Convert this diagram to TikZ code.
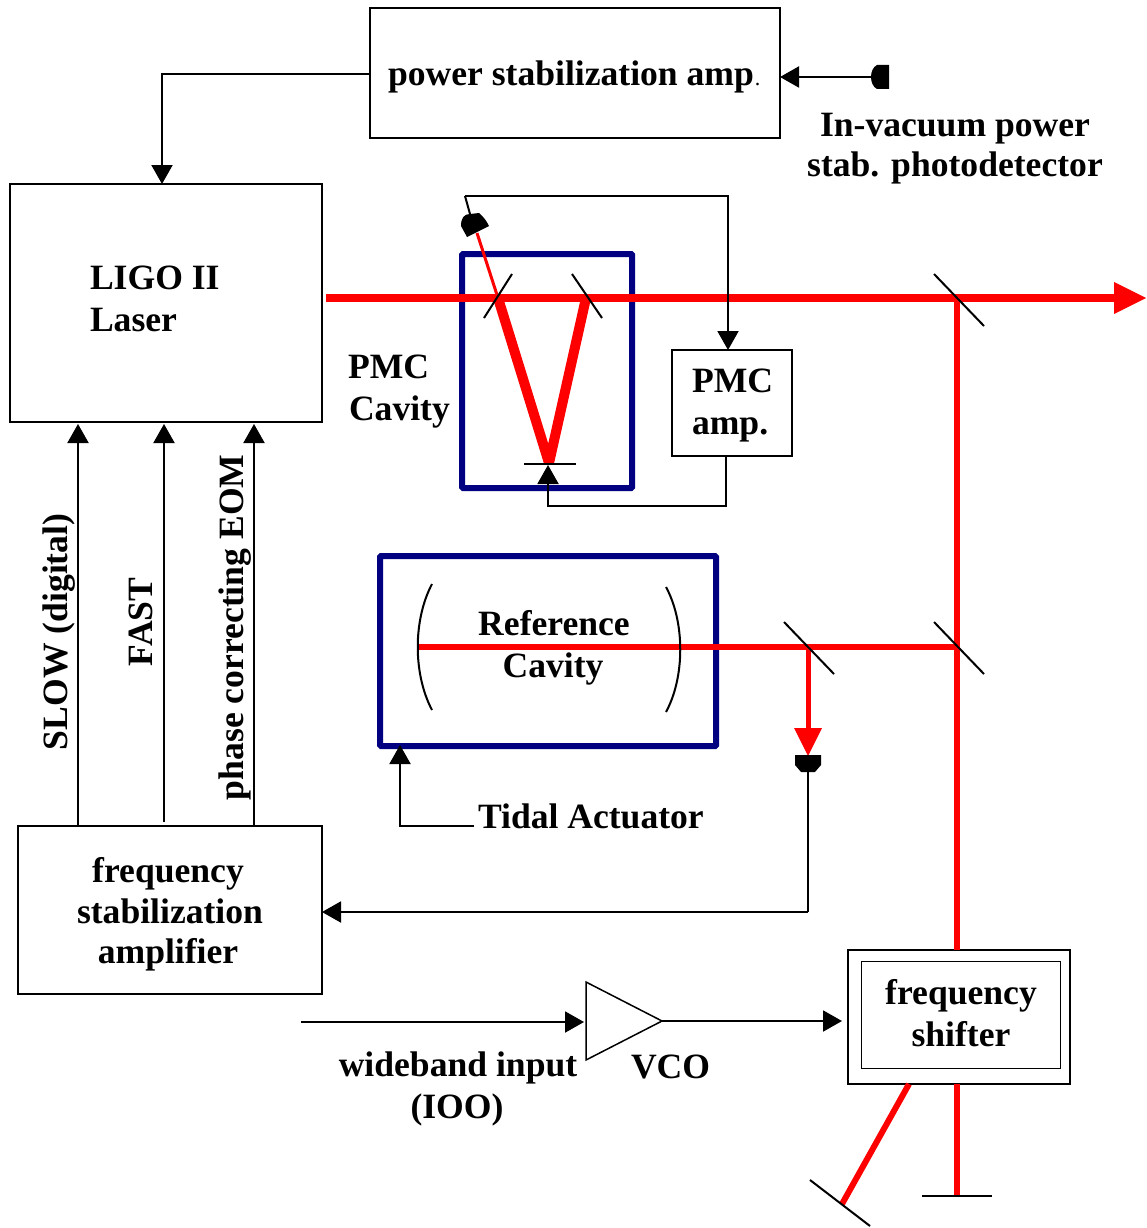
\documentclass[tikz,border=0pt]{standalone}
\usepackage{fontspec}
\setmainfont{Liberation Serif}
\usetikzlibrary{arrows.meta,calc}
\definecolor{cavblue}{RGB}{0,0,128}
\definecolor{beamred}{RGB}{255,0,0}
\tikzset{
  box/.style={draw=black,line width=2pt,outer sep=0pt,inner sep=0pt,rectangle},
  cavbox/.style={draw=cavblue,line width=6pt,outer sep=0pt,inner sep=0pt,rectangle,rounded corners=1pt},
  conn/.style={draw=black,line width=2pt,-{Triangle[length=19pt,width=21pt]}},
  wire/.style={draw=black,line width=2pt},
  mirror/.style={draw=black,line width=2pt},
  beam/.style={draw=beamred,line width=#1},
  beam/.default=6pt,
  lab/.style={font=\bfseries\fontsize{35.6}{41.5}\selectfont,inner sep=0pt,outer sep=0pt,text=black},
}
\begin{document}
\begin{tikzpicture}[x=1pt,y=-1pt]
\useasboundingbox (0,0) rectangle (1146,1228);

% boxes
\node[box,minimum width=410pt,minimum height=130pt] (psamp) at (575,73) {};
\node[box,minimum width=312pt,minimum height=238pt] (laser) at (166,303) {};
\node[box,minimum width=120pt,minimum height=106pt] (pmcamp) at (732,403) {};
\node[box,minimum width=304pt,minimum height=168pt] (freqamp) at (170,910) {};
\node[box,minimum width=222pt,minimum height=134pt] (shifter) at (959,1017) {};
\node[draw=black,line width=1pt,outer sep=0pt,inner sep=0pt,minimum width=199pt,minimum height=107pt] (shifterin) at (961,1015) {};
\node[cavbox,minimum width=170pt,minimum height=234pt] (pmc) at (547,371) {};
\node[cavbox,minimum width=336pt,minimum height=190pt] (ref) at (548,651) {};

% named points
\coordinate (pdtop) at (473,225);
\coordinate (pdtopw) at (470,214);
\coordinate (pdtopr) at (477,233);
\coordinate (pdright) at (872,77);
\coordinate (pdbot) at (808,772);
\coordinate (pdbott) at (808,756);
\coordinate (wirecorner) at (465,196);
\coordinate (v1) at (498,298);
\coordinate (v2) at (549,463);
\coordinate (v3) at (586,298);
\coordinate (bs1) at (957,298);
\coordinate (bs2) at (957,647);
\coordinate (bs3) at (808,647);
\coordinate (beamstart) at (326,298);
\coordinate (beamend) at (1146,298);
\coordinate (refm) at (417,647);
\coordinate (wbin) at (301,1022);
\coordinate (end1) at (957,1197);
\coordinate (end2) at (842,1204);
\coordinate (shout) at (909,1084);

% red beams
\draw[beam=3pt] (pdtopr) -- (v1);
\draw[beam=7.5pt] (beamstart) -- (1116,298);
\fill[beamred] (beamend) -- (1114,282) -- (1114,314) -- cycle;
\begin{scope}
\clip (480,296) rectangle (610,464);
\draw[beam=10pt,line join=miter,miter limit=10] (v1) -- (v2) -- (v3);
\end{scope}
\draw[beam=6pt] (bs1) -- (shifter.north -| bs1);
\draw[beam=6pt] (shifter.south -| bs1) -- (end1);
\draw[beam=6pt] (shout) -- (end2);
\draw[beam=6pt] (refm) -- (bs2);
\draw[beam=5pt] (bs3) -- (808,730);
\fill[beamred] (pdbott) -- (794,728) -- (822,728) -- cycle;

% black mirrors
\draw[mirror] (484,318) -- (512,274);
\draw[mirror] (572,274) -- (602,318);
\draw[mirror] (934,274) -- (984,326);
\draw[mirror] (524,464) -- (576,464);
\draw[mirror] (784,622) -- (834,674);
\draw[mirror] (934,622) -- (984,674);
\draw[mirror] (922,1196) -- (992,1196);
\draw[mirror] (810,1180) -- (870,1226);
\draw[mirror] (432,584) .. controls (413,620) and (413,674) .. (432,710);
\draw[mirror] (666,587) .. controls (685,622) and (685,677) .. (666,712);

% photodetectors
\fill[black] (461,226) .. controls (461,218) and (464,214) .. (470,214) -- (479,213) .. controls (484,217) and (487,222) .. (489,226) -- (467,237) -- cycle;
\fill[black] (889,65) -- (877,65) .. controls (873,67) and (871,72) .. (871,77) .. controls (871,82) and (873,87) .. (877,89) -- (889,89) -- cycle;
\fill[black] (795,755) -- (821,755) -- (821,765) -- (815,772) -- (801,772) -- (795,765) -- cycle;

% VCO
\draw[line width=1.5pt,fill=white,line join=miter] (586,982) -- (662,1021) -- (586,1060) -- cycle;
\coordinate (vcoout) at (662,1021);
\coordinate (vcoin) at (584,1022);

% connectors
\draw[conn] (psamp.west |- 0,74) -| (laser.north -| 162,0);
\draw[conn] (pdright) -- (psamp.east |- pdright);
\draw[wire] (pdtopw) -- (wirecorner);
\draw[conn] (wirecorner) -| (pmcamp.north -| 728,0);
\draw[conn] (pmcamp.south -| 726,0) |- (548,506) -- (548,465);
\draw[conn] (474,826) -| (400,745);
\draw[wire] (pdbot) -- (808,912);
\draw[conn] (808,912) -- (freqamp.east |- 0,912);
\draw[conn] (freqamp.north -| 78,0) -- (78,424);
\draw[conn] (164,822) -- (164,424);
\draw[conn] (freqamp.north -| 254,0) -- (254,424);
\draw[conn] (wbin) -- (vcoin);
\draw[conn] (vcoout) -- (842,1021);

% labels
\node[lab,anchor=base west] (t1) at (388,86) {power stabilization amp\kern1pt\textmd{\fontsize{22}{22}\selectfont.}};
\node[lab,anchor=base] (t2a) at (955,136) {In-vacuum power};
\node[lab,anchor=base] (t2b) at (955,176) {stab. photodetector};
\node[lab,anchor=base west] (t3a) at (90,289) {LIGO II};
\node[lab,anchor=base west] (t3b) at (90,331) {Laser};
\node[lab,anchor=base west] (t4a) at (348,378) {PMC};
\node[lab,anchor=base west] (t4b) at (349,420) {Cavity};
\node[lab,anchor=base west] (t5a) at (692,392) {PMC};
\node[lab,anchor=base west] (t5b) at (692,434) {amp.};
\node[lab,anchor=base] (t6a) at (554,635) {Reference};
\node[lab,anchor=base] (t6b) at (553,677) {Cavity};
\node[lab,anchor=base west] (t7) at (478,828) {Tidal Actuator};
\node[lab,anchor=base west,rotate=90] (t8) at (67,750) {SLOW (digital)};
\node[lab,anchor=base west,rotate=90] (t9) at (152,666) {FAST};
\node[lab,anchor=base west,rotate=90] (t10) at (243,800) {phase correcting EOM};
\node[lab,anchor=base] (t11a) at (168,882) {frequency};
\node[lab,anchor=base] (t11b) at (170,923) {stabilization};
\node[lab,anchor=base] (t11c) at (168,963) {amplifier};
\node[lab,anchor=base] (t12a) at (458,1076) {wideband input};
\node[lab,anchor=base] (t12b) at (457,1118) {(IOO)};
\node[lab,anchor=base west] (t13) at (631,1078) {VCO};
\node[lab,anchor=base] (t14a) at (961,1004) {frequency};
\node[lab,anchor=base] (t14b) at (961,1046) {shifter};
\end{tikzpicture}
\end{document}
